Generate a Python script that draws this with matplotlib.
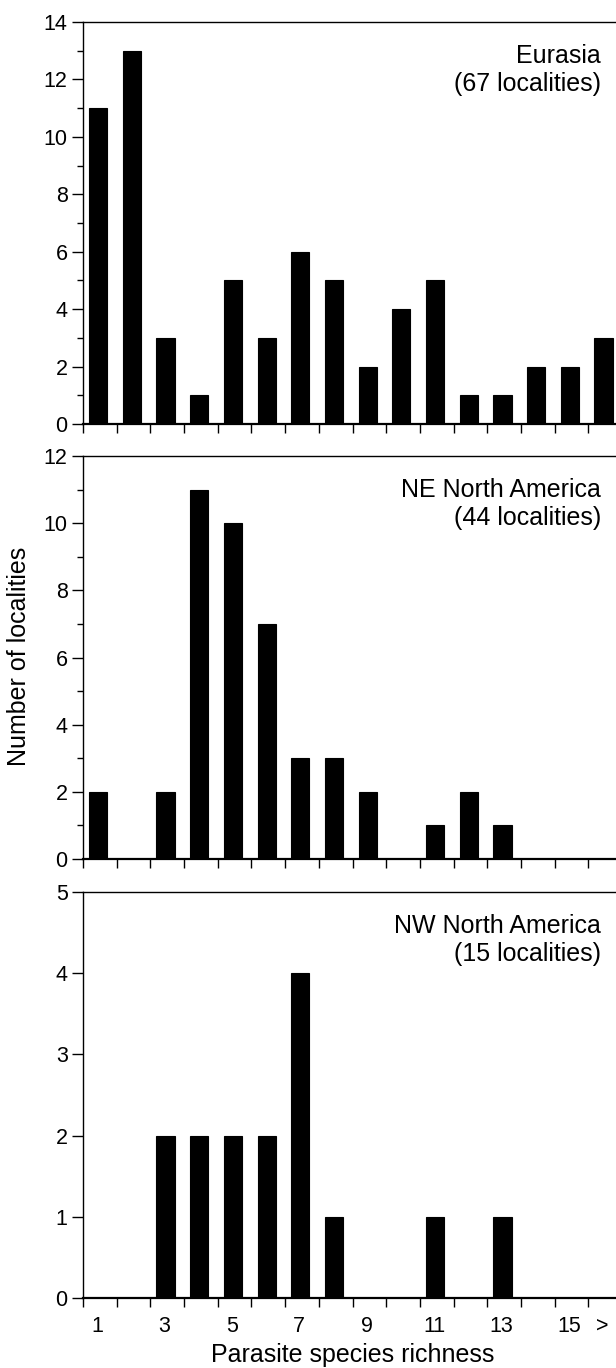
import matplotlib
matplotlib.use("Agg")
import matplotlib.pyplot as plt
from matplotlib.ticker import MultipleLocator, FixedLocator
import numpy as np

plt.rcParams['font.family'] = ['Liberation Sans', 'DejaVu Sans']

categories = ['1', '2', '3', '4', '5', '6', '7', '8', '9', '10', '11', '12', '13', '14', '15', '>']
tick_labels = ['1', '', '3', '', '5', '', '7', '', '9', '', '11', '', '13', '', '15', '>']

eurasia = [11, 13, 3, 1, 5, 3, 6, 5, 2, 4, 5, 1, 1, 2, 2, 3]
ne_america = [2, 0, 2, 11, 10, 7, 3, 3, 2, 0, 1, 2, 1, 0, 0, 0]
nw_america = [0, 0, 2, 2, 2, 2, 4, 1, 0, 0, 1, 0, 1, 0, 0, 0]

panels = [
    (eurasia, "Eurasia", "(67 localities)", 14, 2, 1),
    (ne_america, "NE North America", "(44 localities)", 12, 2, 1),
    (nw_america, "NW North America", "(15 localities)", 5, 1, None),
]

W, H = 616, 1368
fig = plt.figure(figsize=(W / 100, H / 100), dpi=100)

left_px, width_px = 83, 539
rows = [(22, 424), (456, 859), (892, 1298)]

n = len(categories)
x = np.arange(n) + 0.5 - 0.05

TICK_FS = 15.5
ANN_FS = 18

for i, ((vals, t1, t2, ymax, major, minor), (top, bot)) in enumerate(zip(panels, rows)):
    ax = fig.add_axes([left_px / W, 1 - bot / H, width_px / W, (bot - top) / H])
    ax.bar(x, vals, width=0.54, color='black', edgecolor='black', linewidth=0.8)
    ax.set_xlim(0, n)
    ax.set_ylim(0, ymax)
    ax.yaxis.set_major_locator(MultipleLocator(major))
    if minor:
        ax.yaxis.set_minor_locator(MultipleLocator(minor))
    ax.tick_params(axis='y', which='major', direction='out', length=8, width=1.0,
                   labelsize=TICK_FS, pad=3)
    ax.tick_params(axis='y', which='minor', direction='out', length=4, width=1.0)
    ax.xaxis.set_minor_locator(FixedLocator(np.arange(0, n + 1)))
    ax.xaxis.set_major_locator(FixedLocator(np.arange(n) + 0.5 - 0.08))
    ax.tick_params(axis='x', which='minor', direction='out', length=6.5, width=1.0)
    ax.tick_params(axis='x', which='major', length=0, pad=13, labelsize=TICK_FS)
    if i == 2:
        ax.set_xticklabels(tick_labels)
    else:
        ax.set_xticklabels([''] * n)
    for s in ax.spines.values():
        s.set_linewidth(1.0)
    ax.spines['bottom'].set_linewidth(1.6)
    fx = 601 / W
    fig.text(fx, 1 - (top + 41) / H, t1, ha='right', va='baseline', fontsize=ANN_FS)
    fig.text(fx, 1 - (top + 69) / H, t2, ha='right', va='baseline', fontsize=ANN_FS)

fig.text((left_px + width_px / 2) / W, 1 - 1362 / H, "Parasite species richness",
         ha='center', va='baseline', fontsize=18)
fig.text(19.5 / W, 1 - 656 / H, "Number of localities", rotation=90, ha='center', va='center',
         fontsize=18)

fig.savefig("out.png", dpi=100)
